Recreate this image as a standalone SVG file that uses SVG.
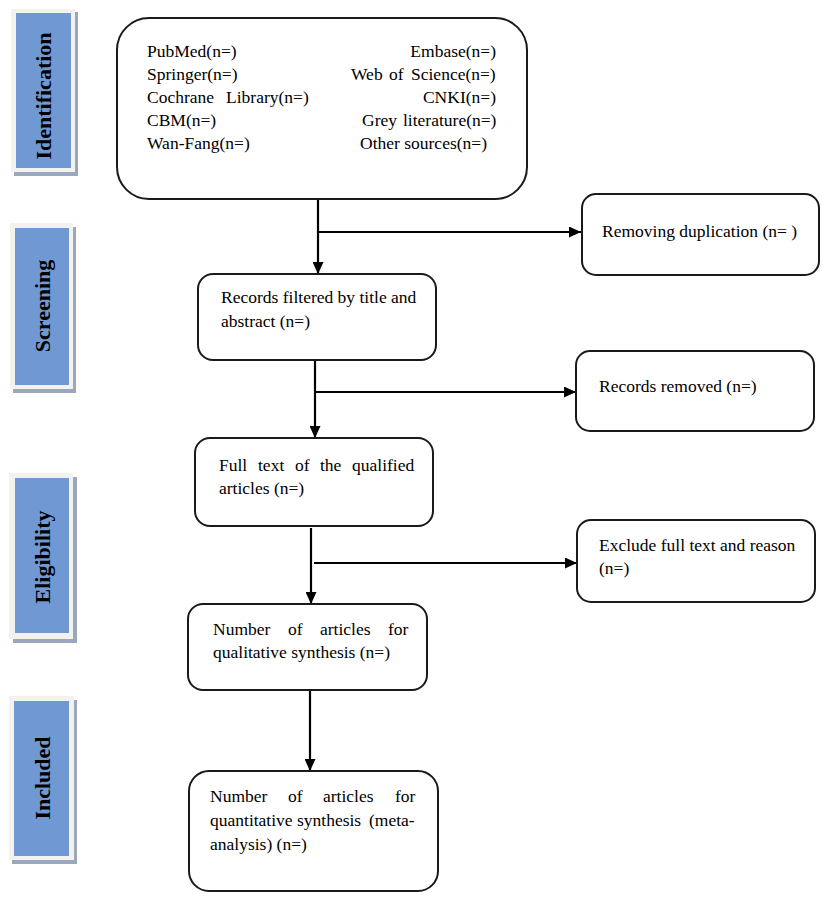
<svg xmlns="http://www.w3.org/2000/svg" width="829" height="897" viewBox="0 0 829 897">
<defs>
<marker id="ah" markerWidth="12" markerHeight="11" refX="12" refY="5.5" orient="auto" markerUnits="userSpaceOnUse">
<path d="M0,0 L12,5.5 L0,11 Z" fill="#000"/>
</marker>
</defs>
<style>
.box{fill:#fff;stroke:#1a1a1a;stroke-width:2}
.t{font-family:"Liberation Serif","Times New Roman",serif;font-size:17.5px;fill:#000}
.lab{font-family:"Liberation Serif","Times New Roman",serif;font-size:22px;font-weight:bold;fill:#000}
.frame{fill:#f4f2ee}
.shadow{fill:#9aa7bd}
.blue{fill:#7099d4}
.ln{stroke:#000;stroke-width:2.2;fill:none}
</style>
<rect width="829" height="897" fill="#fff"/>

<g id="label-identification">
<rect class="shadow" x="14" y="12" width="64" height="164"/>
<rect class="frame" x="11" y="9" width="64" height="163"/>
<rect class="blue" x="16" y="13" width="55" height="155"/>
<text class="lab" transform="translate(51,96) rotate(-90)" text-anchor="middle">Identification</text>
</g>
<g id="label-screening">
<rect class="shadow" x="13" y="227" width="63" height="166"/>
<rect class="frame" x="10" y="223" width="63" height="166"/>
<rect class="blue" x="15" y="228" width="54" height="157"/>
<text class="lab" transform="translate(50,306) rotate(-90)" text-anchor="middle">Screening</text>
</g>
<g id="label-eligibility">
<rect class="shadow" x="13" y="477" width="64" height="166"/>
<rect class="frame" x="9" y="473" width="64" height="166"/>
<rect class="blue" x="15" y="478" width="54" height="155"/>
<text class="lab" transform="translate(50,557) rotate(-90)" text-anchor="middle">Eligibility</text>
</g>
<g id="label-included">
<rect class="shadow" x="12" y="700" width="65" height="164"/>
<rect class="frame" x="9" y="696" width="65" height="164"/>
<rect class="blue" x="14" y="701" width="55" height="155"/>
<text class="lab" transform="translate(50,778) rotate(-90)" text-anchor="middle">Included</text>
</g>

<g id="connectors">
<line class="ln" x1="318" y1="199" x2="318" y2="274" marker-end="url(#ah)"/>
<line class="ln" x1="319" y1="232" x2="581" y2="232" marker-end="url(#ah)"/>
<line class="ln" x1="315" y1="360" x2="315" y2="438" marker-end="url(#ah)"/>
<line class="ln" x1="316" y1="392" x2="576" y2="392" marker-end="url(#ah)"/>
<line class="ln" x1="311" y1="528" x2="311" y2="604" marker-end="url(#ah)"/>
<line class="ln" x1="314" y1="563" x2="577" y2="563" marker-end="url(#ah)"/>
<line class="ln" x1="310" y1="690" x2="310" y2="771" marker-end="url(#ah)"/>
</g>

<g id="sources">
<rect class="box" x="117" y="18" width="410" height="181" rx="32"/>
<text class="t" x="147" y="57">PubMed(n=)</text>
<text class="t" x="147" y="80">Springer(n=)</text>
<text class="t" y="103"><tspan x="147">Cochrane</tspan><tspan x="226">Library(n=)</tspan></text>
<text class="t" x="147" y="126">CBM(n=)</text>
<text class="t" x="147" y="149">Wan-Fang(n=)</text>
<text class="t" x="496" y="57" text-anchor="end">Embase(n=)</text>
<text class="t" y="80"><tspan x="351">Web</tspan><tspan x="389">of</tspan><tspan x="411">Science(n=)</tspan></text>
<text class="t" x="496" y="103" text-anchor="end">CNKI(n=)</text>
<text class="t" y="126"><tspan x="362">Grey</tspan><tspan x="403">literature(n=)</tspan></text>
<text class="t" x="360" y="149">Other sources(n=)</text>
</g>

<g id="removing-duplication">
<rect class="box" x="582" y="194" width="237" height="81" rx="14"/>
<text class="t" x="602" y="237">Removing duplication (n= )</text>
</g>

<g id="records-filtered">
<rect class="box" x="198" y="274" width="238" height="86" rx="15"/>
<text class="t" x="221" y="303">Records filtered by title and</text>
<text class="t" x="221" y="327">abstract (n=)</text>
</g>

<g id="records-removed">
<rect class="box" x="576" y="351" width="238" height="80" rx="14"/>
<text class="t" x="599" y="392">Records removed (n=)</text>
</g>

<g id="full-text">
<rect class="box" x="195" y="438" width="238" height="88" rx="15"/>
<text class="t" y="471"><tspan x="219">Full</tspan><tspan x="258">text</tspan><tspan x="295">of</tspan><tspan x="320">the</tspan><tspan x="352">qualified</tspan></text>
<text class="t" x="219" y="494">articles (n=)</text>
</g>

<g id="exclude-full-text">
<rect class="box" x="577" y="520" width="238" height="82" rx="14"/>
<text class="t" x="599" y="551">Exclude full text and reason</text>
<text class="t" x="599" y="574">(n=)</text>
</g>

<g id="qualitative">
<rect class="box" x="188" y="604" width="239" height="86" rx="15"/>
<text class="t" y="635"><tspan x="213">Number</tspan><tspan x="288">of</tspan><tspan x="320">articles</tspan><tspan x="388">for</tspan></text>
<text class="t" x="213" y="658">qualitative synthesis (n=)</text>
</g>

<g id="quantitative">
<rect class="box" x="189" y="771" width="249" height="120" rx="20"/>
<text class="t" y="802"><tspan x="210">Number</tspan><tspan x="288">of</tspan><tspan x="323">articles</tspan><tspan x="395">for</tspan></text>
<text class="t" y="826"><tspan x="210">quantitative</tspan><tspan x="297">synthesis</tspan><tspan x="369">(meta-</tspan></text>
<text class="t" x="210" y="850">analysis) (n=)</text>
</g>
</svg>
